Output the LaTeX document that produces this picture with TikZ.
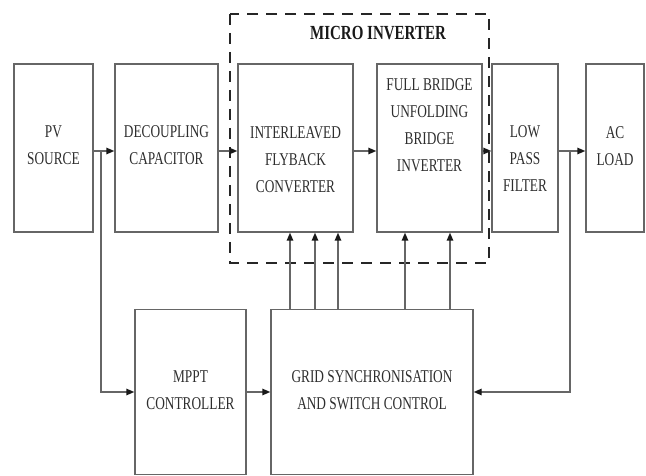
\documentclass[tikz,border=0pt]{standalone}
\usepackage{fontspec}
\setmainfont{Liberation Serif}
\usetikzlibrary{arrows.meta}
\definecolor{ln}{HTML}{666666}
\definecolor{tx}{HTML}{2E2E2E}
\tikzset{
  blk/.style={draw=ln, line width=1.4pt, inner sep=0pt},
  lbl/.style={text=tx, align=center, font=\fontsize{18}{27}\selectfont, inner sep=0pt, xscale=0.74, transform shape},
  conn/.style={draw=ln, line width=1.4pt},
  arr/.style={conn, -{Triangle[length=8pt,width=6.5pt,color=black!90,fill=black!90]}},
  dashbox/.style={draw=black!85, line width=1.3pt, dash pattern=on 11pt off 8pt}
}
\begin{document}
\begin{tikzpicture}[x=1pt,y=-1pt]
\useasboundingbox (0,0) rectangle (646,476);
% dashed micro inverter frame
\draw[dashbox] (230,14) rectangle (489,263);
\node[text=black!90, font=\bfseries\fontsize{20}{24}\selectfont, inner sep=0pt, xscale=0.75, transform shape] (mi) at (378,33) {MICRO INVERTER};
% boxes
\node[blk, minimum width=79pt, minimum height=168pt] (pv) at (53.5,148) {};
\node[blk, minimum width=103pt, minimum height=168pt] (dec) at (166.5,148) {};
\node[blk, minimum width=115pt, minimum height=168pt] (fly) at (295.5,148) {};
\node[blk, minimum width=105pt, minimum height=168pt] (fb) at (429.5,148) {};
\node[blk, minimum width=66pt, minimum height=168pt] (lpf) at (525,148) {};
\node[blk, minimum width=58pt, minimum height=168pt] (ac) at (615,148) {};
\node[blk, minimum width=111pt, minimum height=165pt] (mppt) at (190.5,392) {};
\node[blk, minimum width=202pt, minimum height=165pt] (grid) at (372,392) {};
% texts
\node[lbl] (pvt) at (53.5,145) {PV\\SOURCE};
\node[lbl] (dect) at (166.5,145) {DECOUPLING\\CAPACITOR};
\node[lbl] (flyt) at (295.5,160) {INTERLEAVED\\FLYBACK\\CONVERTER};
\node[lbl] (fbt) at (429.5,125) {FULL BRIDGE\\UNFOLDING\\BRIDGE\\INVERTER};
\node[lbl] (lpft) at (525,159) {LOW\\PASS\\FILTER};
\node[lbl] (act) at (615,146) {AC\\LOAD};
\node[lbl] (mpptt) at (190.5,390) {MPPT\\CONTROLLER};
\node[lbl] (gridt) at (372,390) {GRID SYNCHRONISATION\\AND SWITCH CONTROL};
% junctions
\coordinate (j1) at (101,151);
\coordinate (j2) at (570,151);
% connectors
\draw[arr] (pv.east |- j1) -- (dec.west |- j1);
\draw[arr] (dec.east |- j1) -- (fly.west |- j1);
\draw[arr] (fly.east |- j2) -- (fb.west |- j2);
\draw[arr] (fb.east |- j2) -- (lpf.west |- j2);
\draw[arr] (lpf.east |- j2) -- (ac.west |- j2);
\draw[arr] (j1) |- (mppt.west);
\draw[arr] (mppt.east) -- (grid.west);
\draw[arr] (j2) |- (grid.east);
\foreach \xx in {290,315,338} {
  \draw[arr] (grid.north -| \xx,0) -- (fly.south -| \xx,0);
}
\foreach \xx in {405,450} {
  \draw[arr] (grid.north -| \xx,0) -- (fb.south -| \xx,0);
}
\end{tikzpicture}
\end{document}
